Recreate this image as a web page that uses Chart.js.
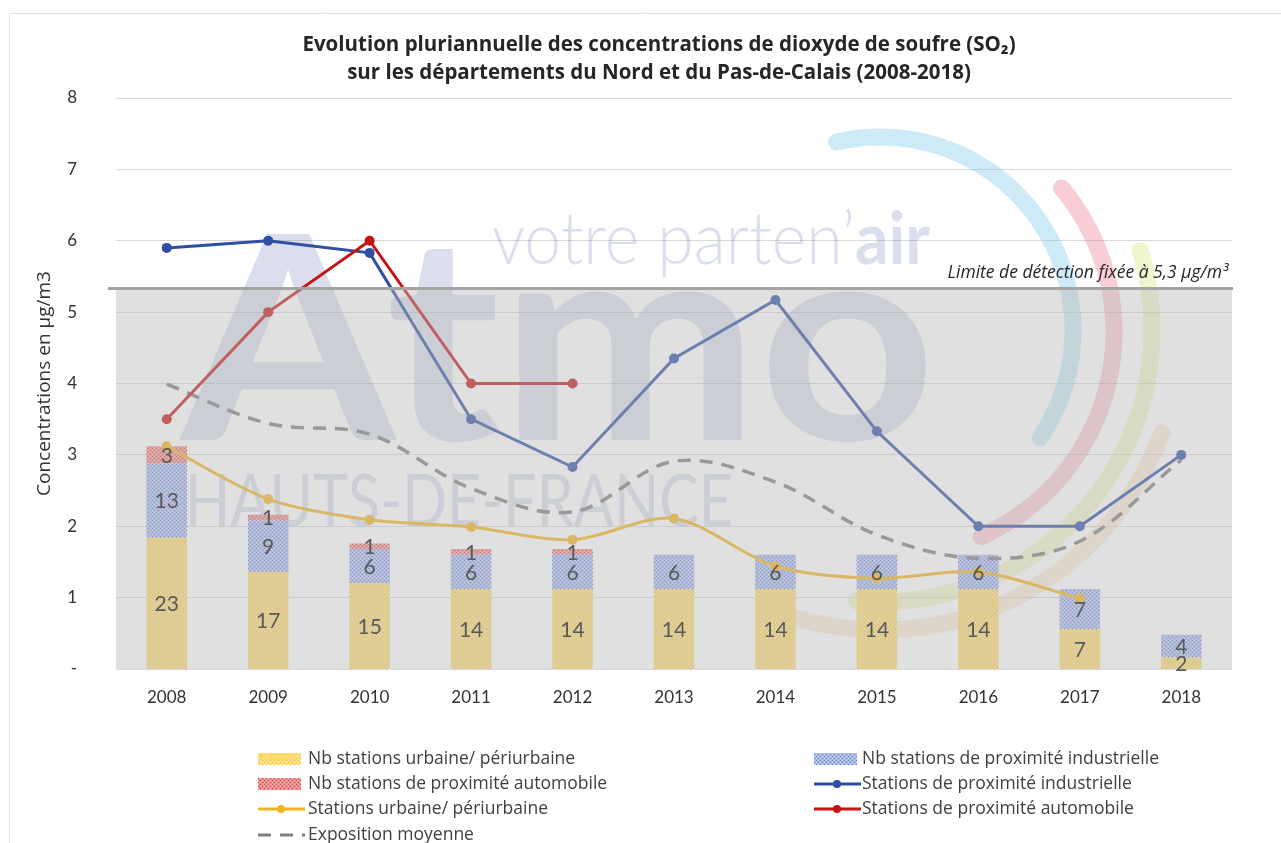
<!DOCTYPE html>
<html>
<head>
<meta charset="utf-8">
<script src="https://cdn.jsdelivr.net/npm/chart.js@4.4.1/dist/chart.umd.min.js"></script>
<style>
  html, body { margin: 0; padding: 0; background: #ffffff; }
  #wrap { width: 1281px; height: 843px; position: relative; }
</style>
</head>
<body>
<div id="wrap"><canvas id="c" width="1281" height="843"></canvas></div>
<script>
// ---- Data ----
const years = ['2008','2009','2010','2011','2012','2013','2014','2015','2016','2017','2018'];
const nbUrbaine     = [23, 17, 15, 14, 14, 14, 14, 14, 14, 7, 2];
const nbIndustrielle = [13, 9, 6, 6, 6, 6, 6, 6, 6, 7, 4];
const nbAutomobile  = [3, 1, 1, 1, 1, 0, 0, 0, 0, 0, 0];
const concIndustrielle = [5.9, 6.0, 5.83, 3.5, 2.83, 4.35, 5.17, 3.33, 2.0, 2.0, 3.0];
const concUrbaine      = [3.12, 2.38, 2.09, 1.99, 1.81, 2.11, 1.44, 1.27, 1.36, 0.99, null];
const concAutomobile   = [3.5, 5.0, 6.0, 4.0, 4.0, null, null, null, null, null, null];
const expositionMoyenne = [3.99, 3.44, 3.29, 2.53, 2.2, 2.91, 2.62, 1.88, 1.55, 1.79, 2.93];
const yTickValues = [0, 1, 2, 3, 4, 5, 6, 7, 8];
const detectionLimit = 5.33;
const detectionLabel = 'Limite de détection fixée à 5,3 µg/m³';
const titleLines = ['Evolution pluriannuelle des concentrations de dioxyde de soufre (SO\u2082)',
                    'sur les départements du Nord et du Pas-de-Calais (2008-2018)'];
const yTitle = 'Concentrations en µg/m3';

// ---- Patterns ----
function makePattern(base, dot, dot2) {
  const p = document.createElement('canvas');
  p.width = 4; p.height = 4;
  const g = p.getContext('2d');
  g.fillStyle = base; g.fillRect(0, 0, 4, 4);
  g.fillStyle = dot;
  g.fillRect(0, 0, 1, 1); g.fillRect(2, 2, 1, 1);
  if (dot2) { g.fillStyle = dot2; g.fillRect(2, 0, 1, 1); g.fillRect(0, 2, 1, 1); }
  return document.createElement('canvas').getContext('2d').createPattern(p, 'repeat');
}
const patYellow = makePattern('#FFDA6C', '#FFF2C8', '#F5C94E');
const patBlue = makePattern('#A9BAF0', '#5E78CC', '#D4DDF8');
const patRed = makePattern('#F48A8A', '#D04848', '#FBC4C4');

const FONT = '"Open Sans", "Noto Sans", sans-serif';
const FONT2 = 'Lato, "Open Sans", sans-serif';

// ---- Plugins ----
const framePlugin = {
  id: 'frame',
  beforeDraw(chart) {
    const c = chart.ctx;
    c.save();
    c.fillStyle = '#ffffff';
    c.fillRect(0, 0, chart.width, chart.height);
    c.strokeStyle = '#E2E2E2';
    c.lineWidth = 1;
    c.beginPath();
    c.moveTo(9.5, chart.height); c.lineTo(9.5, 13.5); c.lineTo(chart.width, 13.5);
    c.stroke();
    // title
    c.fillStyle = '#262626';
    c.font = 'bold 20.5px ' + FONT;
    c.textAlign = 'center';
    c.textBaseline = 'middle';
    c.fillText(titleLines[0], 659, 45);
    c.fillText(titleLines[1], 659, 73);
    c.restore();
  }
};

const watermarkPlugin = {
  id: 'watermark',
  beforeDatasetsDraw(chart) {
    const c = chart.ctx;
    c.save();
    const arcs = [
      {cx: 880, cy: 330, r: 193, a0: -103, a1: 34, col: 'rgba(100,190,228,0.32)'},
      {cx: 890, cy: 332, r: 224, a0: -40, a1: 66, col: 'rgba(232,90,118,0.30)'},
      {cx: 880, cy: 330, r: 272, a0: -17, a1: 95, col: 'rgba(205,218,70,0.28)'},
      {cx: 880, cy: 330, r: 300, a0: 20, a1: 106, col: 'rgba(232,185,115,0.28)'}
    ];
    c.lineCap = 'round';
    c.lineWidth = 17;
    arcs.forEach(a => {
      c.strokeStyle = a.col;
      c.beginPath();
      c.arc(a.cx, a.cy, a.r, a.a0 * Math.PI / 180, a.a1 * Math.PI / 180);
      c.stroke();
    });
    c.fillStyle = 'rgba(110,125,182,0.25)';
    c.textBaseline = 'alphabetic';
    c.textAlign = 'left';
    c.font = 'bold 285px ' + FONT2;
    let w = c.measureText('Atmo').width;
    c.save(); c.translate(181, 440); c.scale(755 / w, 1); c.fillText('Atmo', 0, 0); c.restore();
    c.font = '72px ' + FONT2;
    w = c.measureText('HAUTS-DE-FRANCE').width;
    c.save(); c.translate(185, 526); c.scale(548 / w, 1); c.fillText('HAUTS-DE-FRANCE', 0, 0); c.restore();
    c.font = '300 72px ' + FONT2;
    const t1 = 'votre parten\u2019';
    const w1 = c.measureText(t1).width;
    c.font = 'bold 72px ' + FONT2;
    const w2 = c.measureText('air').width;
    const s = 438 / (w1 + w2);
    c.save(); c.translate(492, 264); c.scale(s, 1);
    c.font = '300 72px ' + FONT2; c.fillText(t1, 0, 0);
    c.font = 'bold 72px ' + FONT2; c.fillText('air', w1, 0);
    c.restore();
    c.restore();
  }
};

const overlayPlugin = {
  id: 'overlay',
  afterDatasetsDraw(chart) {
    const c = chart.ctx;
    const ca = chart.chartArea;
    const y = chart.scales.y.getPixelForValue(detectionLimit);
    c.save();
    c.fillStyle = 'rgba(186,186,186,0.45)';
    c.fillRect(ca.left, y, ca.right - ca.left, ca.bottom - y);
    c.strokeStyle = '#A3A3A3';
    c.lineWidth = 3;
    c.beginPath();
    c.moveTo(ca.left - 8, y); c.lineTo(ca.right + 1, y);
    c.stroke();
    c.fillStyle = '#262626';
    c.font = 'italic 17.5px ' + FONT;
    c.textAlign = 'right';
    c.textBaseline = 'middle';
    c.fillText(detectionLabel, ca.right - 4, y - 16);
    c.fillStyle = '#595959';
    c.font = '21px ' + FONT2;
    c.textAlign = 'center';
    c.textBaseline = 'middle';
    [0, 1, 2].forEach(di => {
      const meta = chart.getDatasetMeta(di);
      const vals = chart.data.datasets[di].data;
      meta.data.forEach((bar, i) => {
        if (!vals[i]) return;
        c.fillText(String(vals[i]), bar.x, (bar.y + bar.base) / 2 + 1);
      });
    });
    c.restore();
  }
};

const legendPlugin = {
  id: 'customLegend',
  afterDraw(chart) {
    const c = chart.ctx;
    const ds = chart.data.datasets;
    const cols = [{sx: 258, tx: 308}, {sx: 814, tx: 862}];
    const rows = [759, 784, 809, 835];
    c.save();
    c.font = '17.5px ' + FONT;
    c.textBaseline = 'middle';
    c.textAlign = 'left';
    ds.forEach((d, i) => {
      const col = cols[i % 2], y = rows[Math.floor(i / 2)];
      if (d.type === 'bar') {
        c.fillStyle = d.backgroundColor;
        c.fillRect(col.sx, y - 6, 43, 12);
      } else {
        c.strokeStyle = d.borderColor;
        c.lineWidth = 3;
        c.setLineDash(d.borderDash || []);
        c.beginPath();
        c.moveTo(col.sx, y); c.lineTo(col.sx + 47, y);
        c.stroke();
        c.setLineDash([]);
        if (d.pointRadius > 0) {
          c.fillStyle = d.borderColor;
          c.beginPath(); c.arc(col.sx + 23, y, 4, 0, Math.PI * 2); c.fill();
        }
      }
      c.fillStyle = '#404040';
      c.fillText(d.label, col.tx, y);
    });
    c.restore();
  }
};

// ---- Chart ----
new Chart(document.getElementById('c'), {
  data: {
    labels: years,
    datasets: [
      {type: 'bar', label: 'Nb stations urbaine/ périurbaine', data: nbUrbaine, yAxisID: 'y2',
       backgroundColor: patYellow, barPercentage: 0.8, categoryPercentage: 0.5, order: 5},
      {type: 'bar', label: 'Nb stations de proximité industrielle', data: nbIndustrielle, yAxisID: 'y2',
       backgroundColor: patBlue, barPercentage: 0.8, categoryPercentage: 0.5, order: 5},
      {type: 'bar', label: 'Nb stations de proximité automobile', data: nbAutomobile, yAxisID: 'y2',
       backgroundColor: patRed, barPercentage: 0.8, categoryPercentage: 0.5, order: 5},
      {type: 'line', label: 'Stations de proximité industrielle', data: concIndustrielle, yAxisID: 'y',
       borderColor: '#2E4FA3', backgroundColor: '#2E4FA3', borderWidth: 3, pointRadius: 5,
       pointBorderWidth: 0, tension: 0, order: 2},
      {type: 'line', label: 'Stations urbaine/ périurbaine', data: concUrbaine, yAxisID: 'y',
       borderColor: '#F2B51E', backgroundColor: '#F2B51E', borderWidth: 3, pointRadius: 5,
       pointBorderWidth: 0, tension: 0.3, order: 4},
      {type: 'line', label: 'Stations de proximité automobile', data: concAutomobile, yAxisID: 'y',
       borderColor: '#C41414', backgroundColor: '#C41414', borderWidth: 3, pointRadius: 5,
       pointBorderWidth: 0, tension: 0, order: 1},
      {type: 'line', label: 'Exposition moyenne', data: expositionMoyenne, yAxisID: 'y',
       borderColor: '#7F7F7F', backgroundColor: '#7F7F7F', borderWidth: 3.5, borderDash: [13, 9],
       pointRadius: 0, tension: 0.35, order: 3}
    ]
  },
  options: {
    responsive: false,
    animation: false,
    layout: {padding: {left: 0, right: 49, top: 98, bottom: 0}},
    plugins: {
      legend: {display: false},
      tooltip: {enabled: false},
      title: {display: false}
    },
    scales: {
      x: {
        stacked: true,
        grid: {display: false, drawTicks: false},
        border: {display: false},
        ticks: {color: '#333333', font: {family: FONT2, size: 17}, padding: 18},
        afterFit(s) { s.height = 174; }
      },
      y: {
        position: 'left',
        min: 0, max: 8,
        afterBuildTicks(s) { s.ticks = yTickValues.map(v => ({value: v})); },
        grid: {color: '#D9D9D9', lineWidth: 1, drawTicks: false},
        border: {display: false},
        ticks: {color: '#333333', font: {family: FONT2, size: 17}, padding: 39,
                callback: v => v === 0 ? '-' : String(v)},
        title: {display: true, text: yTitle, color: '#333333',
                font: {family: FONT, size: 19}, padding: {top: 33, bottom: 0}},
        afterFit(s) { s.width = 116; }
      },
      y2: {
        display: false, stacked: true, min: 0, max: 100
      }
    }
  },
  plugins: [framePlugin, watermarkPlugin, overlayPlugin, legendPlugin]
});
</script>
</body>
</html>
